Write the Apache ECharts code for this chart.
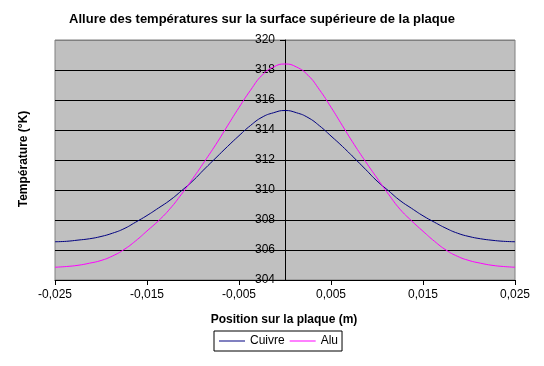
<!DOCTYPE html>
<html>
<head>
<meta charset="utf-8">
<script src="https://cdn.jsdelivr.net/npm/echarts@6/dist/echarts.min.js"></script>
<style>html,body{margin:0;padding:0;background:#fff;}#c{width:544px;height:366px;}</style>
</head>
<body>
<div id="c"></div>
<script>
var titleText = 'Allure des températures sur la surface supérieure de la plaque';
var xName = 'Position sur la plaque (m)';
var yName = 'Température (°K)';
var seriesNames = ['Cuivre', 'Alu'];
var xPositions = [-0.025,-0.02375,-0.0225,-0.02125,-0.02,-0.01875,-0.0175,-0.01625,-0.015,-0.01375,-0.0125,-0.01125,-0.01,-0.00875,-0.0075,-0.00625,-0.005,-0.00375,-0.0025,-0.00125,0,
  0.00125,0.0025,0.00375,0.005,0.00625,0.0075,0.00875,0.01,0.01125,0.0125,0.01375,0.015,0.01625,0.0175,0.01875,0.02,0.02125,0.0225,0.02375,0.025];
var cuivre = [306.55,306.58,306.66,306.75,306.9,307.12,307.42,307.85,308.3,308.8,309.32,309.95,310.62,311.4,312.15,312.9,313.62,314.3,314.85,315.15,315.3,
  315.15,314.83,314.28,313.6,312.9,312.15,311.38,310.6,309.95,309.3,308.78,308.28,307.85,307.45,307.12,306.9,306.75,306.65,306.58,306.55];
var alu = [304.85,304.9,304.98,305.12,305.3,305.6,306.03,306.6,307.27,307.95,308.75,309.72,310.78,311.9,313.05,314.28,315.5,316.65,317.65,318.2,318.4,
  318.2,317.65,316.68,315.52,314.28,313.05,311.9,310.8,309.72,308.72,307.95,307.25,306.58,306.0,305.58,305.3,305.12,304.98,304.9,304.85];
var yMin = 304, yMax = 320, yStep = 2;
var xMin = -0.025, xMax = 0.025, xStep = 0.01;

function pairs(xs, ys){ return xs.map(function(x,i){ return [x, ys[i]]; }); }
var FONT = 'Liberation Sans, Arial, sans-serif';
var GRID_LEFT = 55, GRID_RIGHT = 29;
var plotW = 544 - GRID_LEFT - GRID_RIGHT;
// y axis sits at x = 0 of the horizontal scale
var yAxisOffset = -plotW * (0 - xMin) / (xMax - xMin);
var chart = echarts.init(document.getElementById('c'), null, {renderer:'canvas'});
chart.setOption({
  animation: false,
  backgroundColor: '#fff',
  textStyle: {fontFamily: FONT},
  grid: {left: GRID_LEFT, right: GRID_RIGHT, top: 40, bottom: 86, show: true, backgroundColor: '#C0C0C0', borderColor: '#808080', borderWidth: 1},
  xAxis: {
    type: 'value', min: xMin, max: xMax, interval: xStep,
    axisLine: {onZero: false, lineStyle: {color: '#000', width: 1}},
    axisTick: {show: true, length: 5, lineStyle: {color: '#000'}},
    splitLine: {show: false},
    axisLabel: {color: '#000', fontSize: 12, fontFamily: FONT, margin: 9,
      formatter: function(v){ return v.toFixed(3).replace('.', ','); }}
  },
  yAxis: {
    type: 'value', min: yMin, max: yMax, interval: yStep,
    position: 'left', offset: yAxisOffset,
    axisLine: {onZero: false, lineStyle: {color: '#000', width: 1}},
    axisTick: {show: true, length: 5, lineStyle: {color: '#000'}},
    splitLine: {show: true, lineStyle: {color: ['#000','#000','#000','#000','#000','#000','#000','#000','#808080'], width: 1}},
    axisLabel: {color: '#000', fontSize: 12, fontFamily: FONT, margin: 10}
  },
  legend: {
    data: seriesNames, left: 214, top: 331, orient: 'horizontal',
    borderColor: '#000', borderWidth: 1, padding: [4, 4, 4, 5],
    itemGap: 5, itemWidth: 26, itemHeight: 1, icon: 'rect',
    textStyle: {color: '#000', fontSize: 12, fontFamily: FONT}
  },
  graphic: [
    {type: 'text', x: 262, y: 19, style: {text: titleText, fill: '#000', font: 'bold 13px ' + FONT, textAlign: 'center', textVerticalAlign: 'middle'}},
    {type: 'text', x: 284, y: 320, style: {text: xName, fill: '#000', font: 'bold 12px ' + FONT, textAlign: 'center', textVerticalAlign: 'middle'}},
    {type: 'text', x: 24, y: 159, rotation: Math.PI/2, style: {text: yName, fill: '#000', font: 'bold 12px ' + FONT, textAlign: 'center', textVerticalAlign: 'middle'}}
  ],
  series: [
    {name: seriesNames[0], type: 'line', data: pairs(xPositions, cuivre), smooth: true, showSymbol: false, symbol: 'none',
      lineStyle: {color: '#000080', width: 1}, itemStyle: {color: '#000080'}},
    {name: seriesNames[1], type: 'line', data: pairs(xPositions, alu), smooth: true, showSymbol: false, symbol: 'none',
      lineStyle: {color: '#FF00FF', width: 1}, itemStyle: {color: '#FF00FF'}}
  ]
});
</script>
</body>
</html>
